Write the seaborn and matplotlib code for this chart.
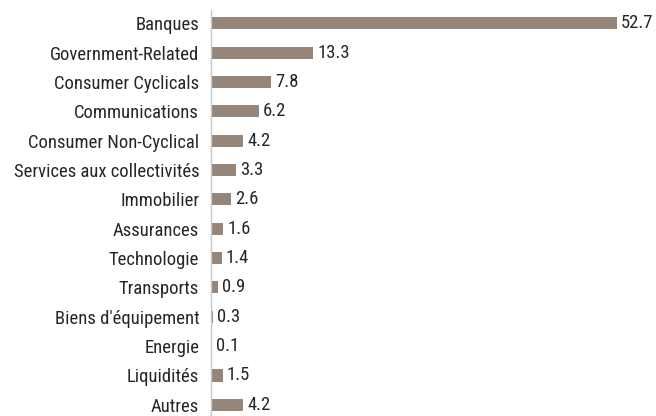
import matplotlib
matplotlib.use("Agg")
import matplotlib.pyplot as plt
import pandas as pd
import seaborn as sns

sectors = ['Banques', 'Government-Related', 'Consumer Cyclicals', 'Communications',
           'Consumer Non-Cyclical', 'Services aux collectivités', 'Immobilier',
           'Assurances', 'Technologie', 'Transports', "Biens d'équipement",
           'Energie', 'Liquidités', 'Autres']
weights = [52.7, 13.3, 7.8, 6.2, 4.2, 3.3, 2.6, 1.6, 1.4, 0.9, 0.3, 0.1, 1.5, 4.2]

df = pd.DataFrame({'sector': sectors, 'weight': weights})

sns.set_style("white")
plt.rcParams['font.family'] = ['Roboto Condensed', 'DejaVu Sans']

fig = plt.figure(figsize=(6.56, 4.16), dpi=100)
ax = fig.add_axes([211 / 656, 0, 445 / 656, 406 / 416])

sns.barplot(data=df, y='sector', x='weight', orient='h', color='#968579',
            saturation=1, width=0.41, linewidth=0, ax=ax)

# value labels at bar ends
for i, v in enumerate(weights):
    ax.text(v + 0.5, i, f'{v:.1f}', va='center', ha='left', fontsize=13.4, color='#262626')

ax.set_xlim(0, 57.8)
ax.set_ylim(13.38, -0.45)
ax.set_xlabel('')
ax.set_ylabel('')
ax.set_xticks([])
ax.tick_params(axis='y', length=0, pad=8.5, labelsize=13.4, labelcolor='#262626')
for s in ['top', 'right', 'bottom']:
    ax.spines[s].set_visible(False)
ax.spines['left'].set_color('#c8c8c8')
ax.spines['left'].set_linewidth(1)

fig.savefig('out.png', dpi=100)
